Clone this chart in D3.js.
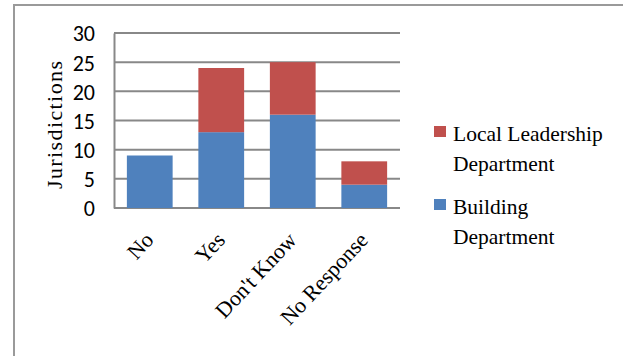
<!DOCTYPE html>
<html>
<head>
<meta charset="utf-8">
<script src="https://cdn.jsdelivr.net/npm/d3@7/dist/d3.min.js"></script>
<style>
  html, body { margin: 0; padding: 0; background: #fff; }
  svg { display: block; }
</style>
</head>
<body>
<svg id="chart" width="623" height="356"></svg>
<script>
// Survey responses by jurisdiction, stacked by department
const categories = ["No", "Yes", "Don't Know", "No Response"];
const buildingDept = [9, 13, 16, 4];
const localLeadershipDept = [0, 11, 9, 4];
const yTicks = [0, 5, 10, 15, 20, 25, 30];
const seriesNames = ["Building Department", "Local Leadership Department"];
const seriesColors = ["#4F81BD", "#C0504D"];

const rows = categories.map((c, i) => ({
  category: c,
  "Building Department": buildingDept[i],
  "Local Leadership Department": localLeadershipDept[i]
}));

const serif = "'Liberation Serif', 'Times New Roman', serif";
const svg = d3.select("#chart");

// outer frame (top and left edges visible)
svg.append("line").attr("x1", 13).attr("x2", 623).attr("y1", 5).attr("y2", 5)
  .attr("stroke", "#9a9a9a").attr("stroke-width", 2);
svg.append("line").attr("x1", 14).attr("x2", 14).attr("y1", 4).attr("y2", 356)
  .attr("stroke", "#9a9a9a").attr("stroke-width", 2);

const plot = { left: 114, right: 400, top: 33, bottom: 208 };

const x = d3.scaleBand().domain(categories)
  .range([plot.left, plot.right]).paddingInner(0.36).paddingOuter(0.18);
const y = d3.scaleLinear().domain([0, 30]).range([plot.bottom, plot.top]);

// horizontal gridlines
svg.append("g").selectAll("line").data(yTicks).join("line")
  .attr("x1", plot.left).attr("x2", plot.right)
  .attr("y1", d => y(d)).attr("y2", d => y(d))
  .attr("stroke", "#888").attr("stroke-width", 2);

// stacked bars
const stack = d3.stack().keys(seriesNames)(rows);
svg.append("g").selectAll("g").data(stack).join("g")
  .attr("fill", (d, i) => seriesColors[i])
  .selectAll("rect").data(d => d).join("rect")
  .attr("x", d => x(d.data.category))
  .attr("width", x.bandwidth())
  .attr("y", d => y(d[1]))
  .attr("height", d => y(d[0]) - y(d[1]));

// y axis
const yAxis = svg.append("g").attr("transform", `translate(${plot.left},0)`)
  .call(d3.axisLeft(y).tickValues(yTicks).tickSize(0).tickPadding(19));
yAxis.select(".domain").attr("stroke", "#888").attr("stroke-width", 2);
yAxis.selectAll("text").attr("font-family", "Carlito, Calibri, 'Liberation Sans', sans-serif")
  .attr("font-size", 22).attr("fill", "#000").attr("dy", "0.36em");

// x axis labels, rotated
const xAxis = svg.append("g").attr("transform", `translate(0,${plot.bottom})`)
  .call(d3.axisBottom(x).tickSize(0).tickPadding(0));
xAxis.select(".domain").remove();
xAxis.selectAll("text")
  .attr("font-family", serif)
  .attr("font-size", 22).attr("fill", "#000")
  .attr("text-anchor", "end")
  .attr("dy", 0).attr("x", 0).attr("y", 0)
  .attr("transform", "translate(5,33) rotate(-47)");

// y axis title
svg.append("text")
  .attr("transform", "translate(62,125) rotate(-90)")
  .attr("text-anchor", "middle")
  .attr("font-family", serif)
  .attr("font-size", 22).attr("fill", "#000")
  .attr("textLength", 128).attr("lengthAdjust", "spacing")
  .text("Jurisdictions");

// legend
const legendItems = [
  { name: ["Local Leadership", "Department"], color: seriesColors[1], top: 126 },
  { name: ["Building", "Department"], color: seriesColors[0], top: 199 }
];
const legend = svg.append("g");
legendItems.forEach(item => {
  legend.append("rect").attr("x", 434).attr("y", item.top)
    .attr("width", 12).attr("height", 11).attr("fill", item.color);
  item.name.forEach((line, j) => {
    legend.append("text").attr("x", 453).attr("y", item.top + 14.5 + j * 30.7)
      .attr("font-family", serif)
      .attr("font-size", 21.5).attr("fill", "#000").text(line);
  });
});
</script>
</body>
</html>
